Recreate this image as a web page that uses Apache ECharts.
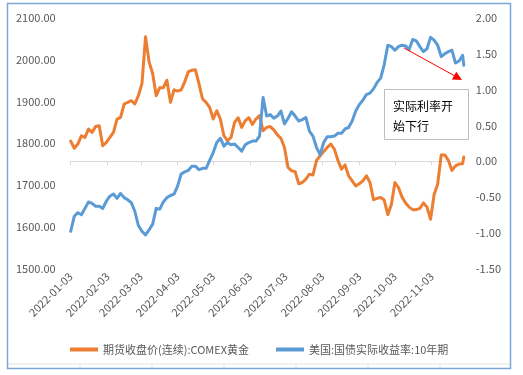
<!DOCTYPE html>
<html>
<head>
<meta charset="utf-8">
<script src="https://cdn.jsdelivr.net/npm/echarts@6/dist/echarts.min.js"></script>
<style>
html,body{margin:0;padding:0;background:#fff;}
#c{width:523px;height:375px;}
</style>
</head>
<body>
<div id="c"></div>
<script>
// ---- data ----
const dates = [
'2022-01-03','2022-01-06','2022-01-09','2022-01-12','2022-01-15','2022-01-18','2022-01-21','2022-01-24','2022-01-27','2022-01-30',
'2022-02-02','2022-02-05','2022-02-08','2022-02-11','2022-02-14','2022-02-17','2022-02-20','2022-02-23','2022-02-26','2022-03-01',
'2022-03-04','2022-03-07','2022-03-10','2022-03-13','2022-03-16','2022-03-19','2022-03-22','2022-03-25','2022-03-28','2022-03-31',
'2022-04-03','2022-04-06','2022-04-09','2022-04-12','2022-04-15','2022-04-18','2022-04-21','2022-04-24','2022-04-27','2022-04-30',
'2022-05-03','2022-05-06','2022-05-09','2022-05-12','2022-05-15','2022-05-18','2022-05-21','2022-05-24','2022-05-27','2022-05-30',
'2022-06-02','2022-06-05','2022-06-08','2022-06-11','2022-06-14','2022-06-17','2022-06-20','2022-06-23','2022-06-26','2022-06-29',
'2022-07-02','2022-07-05','2022-07-08','2022-07-11','2022-07-14','2022-07-17','2022-07-20','2022-07-23','2022-07-26','2022-07-29',
'2022-08-01','2022-08-04','2022-08-07','2022-08-10','2022-08-13','2022-08-16','2022-08-19','2022-08-22','2022-08-25','2022-08-28',
'2022-08-31','2022-09-03','2022-09-06','2022-09-09','2022-09-12','2022-09-15','2022-09-18','2022-09-21','2022-09-24','2022-09-27',
'2022-09-30','2022-10-03','2022-10-06','2022-10-09','2022-10-12','2022-10-15','2022-10-18','2022-10-21','2022-10-24','2022-10-27',
'2022-10-30','2022-11-02','2022-11-05','2022-11-08','2022-11-11','2022-11-14','2022-11-17','2022-11-20','2022-11-23','2022-11-26',
'2022-11-29','2022-11-30'
];
const goldValues = [
1805,1788,1798,1818,1814,1834,1826,1840,1842,1794,
1802,1814,1826,1858,1862,1894,1898,1902,1894,1914,
1943,2055,1995,1967,1914,1933,1933,1951,1898,1928,
1925,1928,1947,1971,1975,1976,1943,1906,1898,1886,
1858,1878,1858,1818,1806,1814,1850,1861,1838,1854,
1861,1845,1858,1866,1830,1838,1840,1832,1820,1812,
1790,1742,1734,1732,1703,1706,1714,1726,1724,1759,
1770,1780,1790,1798,1786,1759,1738,1748,1722,1710,
1698,1703,1710,1722,1706,1665,1668,1670,1664,1629,
1653,1706,1694,1671,1657,1647,1641,1641,1644,1657,
1647,1618,1677,1702,1772,1772,1759,1735,1746,1750,
1751,1767
];
const yieldValues = [
-0.98,-0.77,-0.72,-0.75,-0.66,-0.57,-0.59,-0.63,-0.63,-0.66,
-0.56,-0.49,-0.46,-0.52,-0.45,-0.51,-0.54,-0.58,-0.70,-0.90,
-0.98,-1.03,-0.96,-0.88,-0.66,-0.67,-0.57,-0.51,-0.48,-0.46,
-0.35,-0.18,-0.15,-0.13,-0.07,-0.07,-0.12,-0.10,-0.10,0.01,
0.12,0.26,0.32,0.21,0.26,0.23,0.24,0.19,0.14,0.23,
0.26,0.28,0.28,0.35,0.89,0.63,0.65,0.60,0.63,0.70,
0.52,0.60,0.69,0.63,0.56,0.58,0.61,0.42,0.35,0.19,
0.09,0.26,0.34,0.34,0.35,0.39,0.39,0.45,0.47,0.56,
0.70,0.79,0.85,0.93,0.95,1.01,1.10,1.16,1.35,1.62,
1.60,1.55,1.60,1.62,1.61,1.56,1.70,1.68,1.60,1.53,
1.57,1.73,1.69,1.62,1.46,1.50,1.53,1.55,1.37,1.40,
1.48,1.34
];
const tickLabels = ['2022-01-03','2022-02-03','2022-03-03','2022-04-03','2022-05-03','2022-06-03','2022-07-03','2022-08-03','2022-09-03','2022-10-03','2022-11-03'];
const axisStart = '2022-01-03';
const axisEnd = '2022-11-30';
const goldName = '期货收盘价(连续):COMEX黄金';
const yieldName = '美国:国债实际收益率:10年期';
const noteText = '实际利率开\n始下行';

// ---- helpers ----
function toTs(s){const p=s.split('-').map(Number);return Date.UTC(p[0],p[1]-1,p[2]);}
const tickTs = tickLabels.map(toTs);
function fmt(v){const d=new Date(v);const m=d.getUTCMonth()+1, dd=d.getUTCDate();return d.getUTCFullYear()+'-'+(m<10?'0':'')+m+'-'+(dd<10?'0':'')+dd;}

const chart = echarts.init(document.getElementById('c'), null, {renderer:'canvas'});
const font = '"Noto Sans CJK SC", "Liberation Sans", sans-serif';
const lblColor = '#595959';

chart.setOption({
  backgroundColor:'#ffffff',
  animation:false,
  textStyle:{fontFamily:font},
  grid:{left:70.7, right:59.2, top:18, bottom:106.5, containLabel:false},
  legend:{
    left:65, top:339, itemWidth:28, itemHeight:4, itemGap:27, icon:'rect',
    textStyle:{color:lblColor, fontSize:11, fontFamily:font},
    data:[goldName, yieldName]
  },
  xAxis:{
    type:'value', min:toTs(axisStart), max:toTs(axisEnd), scale:true,
    axisLine:{show:true, lineStyle:{color:'#d9d9d9', width:1}},
    axisTick:{show:true, length:4, lineStyle:{color:'#d9d9d9'}, customValues:tickTs},
    axisLabel:{rotate:45, color:lblColor, fontSize:11, margin:6, customValues:tickTs, formatter:fmt},
    splitLine:{show:false}
  },
  yAxis:[
    {type:'value', min:1500, max:2100, interval:100, position:'left',
     axisLine:{show:false}, axisTick:{show:false}, splitLine:{show:false},
     axisLabel:{color:lblColor, fontSize:11, margin:15, formatter:v=>v.toFixed(2)}},
    {type:'value', min:-1.5, max:2, interval:0.5, position:'right',
     axisLine:{show:false}, axisTick:{show:false}, splitLine:{show:false},
     axisLabel:{color:lblColor, fontSize:11, margin:12, formatter:v=>v.toFixed(2)}}
  ],
  series:[
    {name:goldName, type:'line', yAxisIndex:0, showSymbol:false, symbol:'none',
     lineStyle:{color:'#ED7D31', width:3, cap:'round', join:'round'}, itemStyle:{color:'#ED7D31'},
     data:dates.map((d,i)=>[toTs(d), goldValues[i]])},
    {name:yieldName, type:'line', yAxisIndex:1, showSymbol:false, symbol:'none',
     lineStyle:{color:'#5B9BD5', width:3, cap:'round', join:'round'}, itemStyle:{color:'#5B9BD5'},
     data:dates.map((d,i)=>[toTs(d), yieldValues[i]])}
  ],
  graphic:[
    {type:'rect', shape:{x:7.5,y:3.5,width:503,height:365}, style:{fill:null, stroke:'#7aa7d8', lineWidth:1.5}, z:100, silent:true},
    {type:'line', shape:{x1:8,y1:364,x2:510,y2:364}, style:{stroke:'#e3e3e3', lineWidth:1}, silent:true},
    {type:'line', shape:{x1:80,y1:364,x2:80,y2:368}, style:{stroke:'#e3e3e3', lineWidth:1}, silent:true},
    {type:'line', shape:{x1:152,y1:364,x2:152,y2:368}, style:{stroke:'#e3e3e3', lineWidth:1}, silent:true},
    {type:'line', shape:{x1:224,y1:364,x2:224,y2:368}, style:{stroke:'#e3e3e3', lineWidth:1}, silent:true},
    {type:'line', shape:{x1:296,y1:364,x2:296,y2:368}, style:{stroke:'#e3e3e3', lineWidth:1}, silent:true},
    {type:'line', shape:{x1:368,y1:364,x2:368,y2:368}, style:{stroke:'#e3e3e3', lineWidth:1}, silent:true},
    {type:'line', shape:{x1:440,y1:364,x2:440,y2:368}, style:{stroke:'#e3e3e3', lineWidth:1}, silent:true},
    {type:'rect', shape:{x:384.5,y:89.5,width:84,height:50}, style:{fill:'#ffffff', stroke:'#bfbfbf', lineWidth:1}, z:50, silent:true},
    {type:'text', x:393, y:96, z:51, silent:true, style:{text:noteText, fill:'#000000', font:'12px "Noto Sans CJK SC", sans-serif', lineHeight:20}},
    {type:'line', shape:{x1:404,y1:48,x2:455,y2:76}, style:{stroke:'#ff0000', lineWidth:1}, z:52, silent:true},
    {type:'polygon', shape:{points:[[462,80],[451.9,79.6],[456.3,71.7]]}, style:{fill:'#ff0000'}, z:52, silent:true}
  ]
});
</script>
</body>
</html>
